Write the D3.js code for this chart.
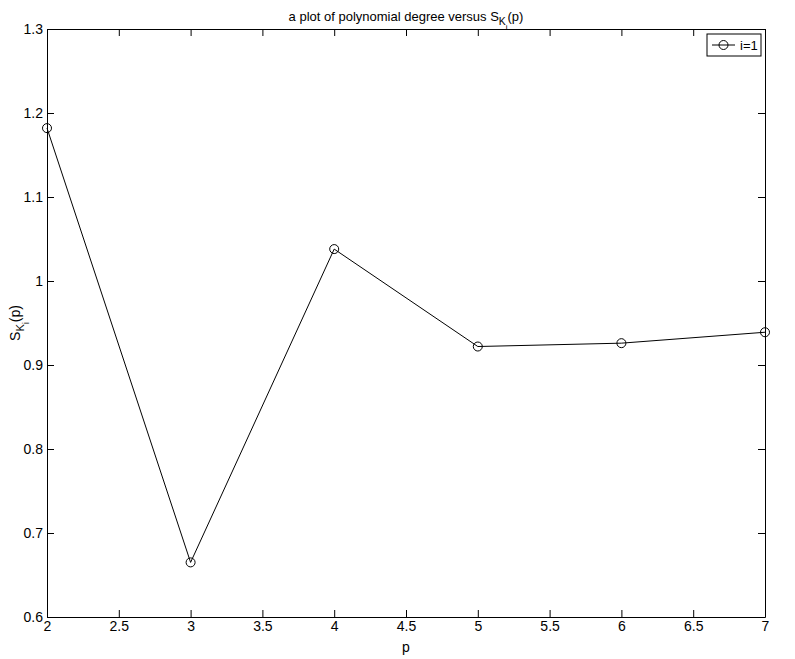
<!DOCTYPE html>
<html>
<head>
<meta charset="utf-8">
<script src="https://cdn.jsdelivr.net/npm/d3@7"></script>
<style>
  body { margin: 0; background: #fff; }
  svg text { font-family: "Liberation Sans", Arial, sans-serif; fill: #000; }
</style>
</head>
<body>
<div id="chart"></div>
<script>
// data
const degrees = [2, 3, 4, 5, 6, 7];
const skValues = [1.182, 0.665, 1.038, 0.922, 0.926, 0.939];
const xTicks = [2, 2.5, 3, 3.5, 4, 4.5, 5, 5.5, 6, 6.5, 7];
const yTicks = [0.6, 0.7, 0.8, 0.9, 1, 1.1, 1.2, 1.3];
const legendLabel = "i=1";

const width = 795, height = 659;
const margin = {top: 29, right: 30, bottom: 42, left: 47};

const svg = d3.select("#chart").append("svg")
  .attr("width", width)
  .attr("height", height);

const x = d3.scaleLinear().domain([2, 7]).range([margin.left, width - margin.right]);
const y = d3.scaleLinear().domain([0.6, 1.3]).range([height - margin.bottom, margin.top]);

const tickLen = 7;

//axes, matlab style ticks pointing inward
svg.append("g")
  .attr("transform", `translate(0,${y(0.6)})`)
  .call(d3.axisBottom(x).tickValues(xTicks).tickSizeInner(-tickLen).tickSizeOuter(0).tickPadding(4)
    .tickFormat(d3.format("~g")));
svg.append("g")
  .attr("transform", `translate(0,${y(1.3)})`)
  .call(d3.axisTop(x).tickValues(xTicks).tickSizeInner(-tickLen).tickSizeOuter(0).tickFormat(""));
svg.append("g")
  .attr("transform", `translate(${x(2)},0)`)
  .call(d3.axisLeft(y).tickValues(yTicks).tickSizeInner(-tickLen).tickSizeOuter(0).tickPadding(4)
    .tickFormat(d3.format("~g")));
svg.append("g")
  .attr("transform", `translate(${x(7)},0)`)
  .call(d3.axisRight(y).tickValues(yTicks).tickSizeInner(-tickLen).tickSizeOuter(0).tickFormat(""));

svg.selectAll(".domain").attr("stroke", "#000").attr("stroke-width", 1);
svg.selectAll(".tick line").attr("stroke", "#000");
svg.selectAll(".tick text").attr("font-size", 14).style("font-family", "Liberation Sans, Arial, sans-serif");

//the series
const pts = degrees.map((d, i) => [d, skValues[i]]);
svg.append("path")
  .datum(pts)
  .attr("fill", "none")
  .attr("stroke", "#000")
  .attr("stroke-width", 1)
  .attr("d", d3.line().x(d => x(d[0])).y(d => y(d[1])));

svg.selectAll(".pt").data(pts).enter().append("circle")
  .attr("class", "pt")
  .attr("cx", d => x(d[0]))
  .attr("cy", d => y(d[1]))
  .attr("r", 4.5)
  .attr("fill", "none")
  .attr("stroke", "#000");

//S_{K_i}(p) label helper
function skLabel(sel) {
  sel.append("tspan").text("S");
  sel.append("tspan").attr("dy", 4).attr("font-size", "0.8em").text("K");
  sel.append("tspan").attr("dy", 5).attr("font-size", "0.6em").text("i");
  sel.append("tspan").attr("dy", -9).text("(p)");
}

//title
const title = svg.append("text")
  .attr("x", (x(2) + x(7)) / 2)
  .attr("y", 21)
  .attr("text-anchor", "middle")
  .attr("font-size", 13);
title.append("tspan").text("a plot of polynomial degree versus ");
skLabel(title);

//axis labels
svg.append("text")
  .attr("x", (x(2) + x(7)) / 2)
  .attr("y", 652)
  .attr("text-anchor", "middle")
  .attr("font-size", 14)
  .text("p");

const ylab = svg.append("text")
  .attr("transform", `translate(20,${(y(0.6) + y(1.3)) / 2}) rotate(-90)`)
  .attr("text-anchor", "middle")
  .attr("font-size", 14);
skLabel(ylab);

//legend
const lx = x(7) - 58, ly = y(1.3) + 5;
const leg = svg.append("g").attr("transform", `translate(${lx},${ly})`);
leg.append("rect")
  .attr("width", 54).attr("height", 22)
  .attr("fill", "#fff").attr("stroke", "#000");
leg.append("line")
  .attr("x1", 5).attr("x2", 28).attr("y1", 11).attr("y2", 11)
  .attr("stroke", "#000");
leg.append("circle")
  .attr("cx", 16.5).attr("cy", 11).attr("r", 4.5)
  .attr("fill", "none").attr("stroke", "#000");
leg.append("text")
  .attr("x", 33).attr("y", 16)
  .attr("font-size", 13)
  .text(legendLabel);
</script>
</body>
</html>
